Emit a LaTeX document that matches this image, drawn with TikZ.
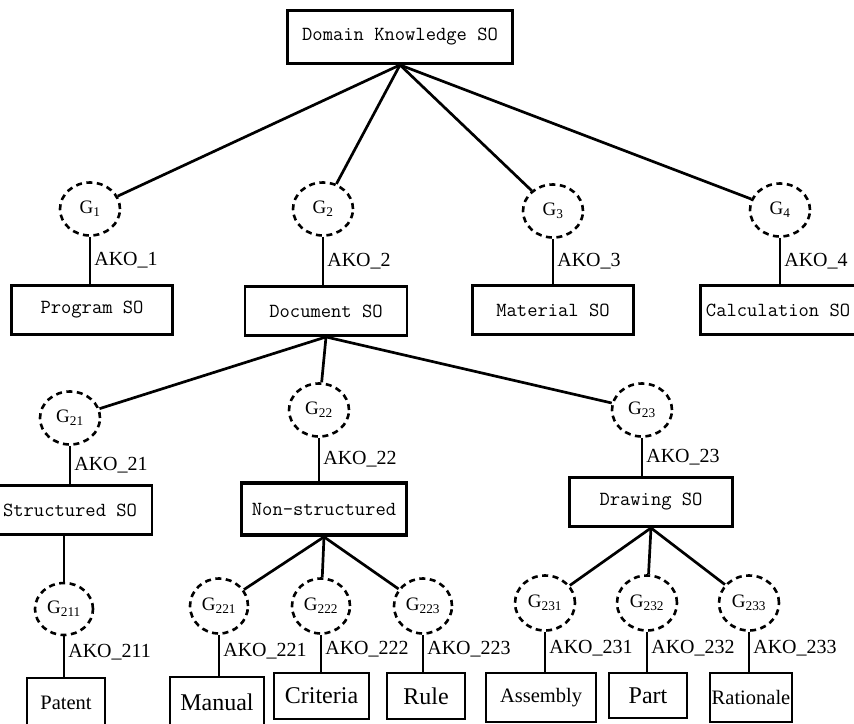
\documentclass[tikz,border=0pt]{standalone}
\usepackage{fontspec}
\setmainfont{Liberation Serif}
\usetikzlibrary{shapes.geometric}

\tikzset{
  sobox/.style={draw, line width=2.9pt, inner sep=0pt,
    font=\fontsize{20}{24}\selectfont\ttfamily},
  leafbig/.style={draw, line width=2.9pt, inner sep=0pt,
    font=\fontsize{24}{28}\selectfont},
  leafsmall/.style={draw, line width=2.9pt, inner sep=0pt,
    font=\fontsize{20.5}{24}\selectfont},
  gnode/.style={draw, ellipse, dash pattern=on 6pt off 4.5pt,
    line width=2.6pt, minimum width=60pt, minimum height=53pt,
    inner sep=0pt, font=\fontsize{19}{22}\selectfont},
  link/.style={line width=2.7pt},
  ako/.style={font=\fontsize{20}{24}\selectfont, anchor=west,
    inner sep=3pt}
}

\begin{document}
\begin{tikzpicture}[x=1pt, y=-1pt]
\useasboundingbox (0,0) rectangle (854,723);
\clip (0,0) rectangle (854,723);

% root
\node[sobox, minimum width=225pt, minimum height=53pt] (root) at (400,37) {Domain Knowledge SO};

% first level
\node[gnode] (g1) at (90,209) {G\textsubscript{1}};
\node[gnode] (g2) at (323,209) {G\textsubscript{2}};
\node[gnode] (g3) at (553,211) {G\textsubscript{3}};
\node[gnode] (g4) at (780,210) {G\textsubscript{4}};

\node[sobox, minimum width=161pt, minimum height=49pt] (prog) at (92,310) {Program SO};
\node[sobox, minimum width=162pt, minimum height=49pt] (doc) at (326,311) {Document SO};
\node[sobox, minimum width=161pt, minimum height=49pt] (mat) at (553,310) {Material SO};
\node[sobox, anchor=west, inner xsep=5.5pt, minimum height=49pt] (calc) at (699,310) {Calculation SO};

\foreach \g in {g1,g2,g3,g4} \draw[link] (root.south) -- (\g);

\draw[link] (g1.south) -- (g1.south |- prog.north) node[ako, midway] {AKO\_1};
\draw[link] (g2.south) -- (g2.south |- doc.north) node[ako, midway] {AKO\_2};
\draw[link] (g3.south) -- (g3.south |- mat.north) node[ako, midway] {AKO\_3};
\draw[link] (g4.south) -- (g4.south |- calc.north) node[ako, midway] {AKO\_4};

% second level
\node[gnode] (g21) at (70,418) {G\textsubscript{21}};
\node[gnode] (g22) at (319,410) {G\textsubscript{22}};
\node[gnode] (g23) at (642,410) {G\textsubscript{23}};

\node[sobox, minimum width=164pt, minimum height=49pt] (struct) at (70,510) {Structured SO};
\node[sobox, line width=3.8pt, minimum width=165pt, minimum height=52pt] (nonstruct) at (324,509) {Non-structured};
\node[sobox, minimum width=163pt, minimum height=49pt] (draw) at (651,502) {Drawing SO};

\foreach \g in {g21,g22,g23} \draw[link] (doc.south) -- (\g);

\draw[link] (g21.south) -- (g21.south |- struct.north) node[ako, midway] {AKO\_21};
\draw[link] (g22.south) -- (g22.south |- nonstruct.north) node[ako, midway] {AKO\_22};
\draw[link] (g23.south) -- (g23.south |- draw.north) node[ako, midway] {AKO\_23};

% third level
\node[gnode, minimum width=58pt, minimum height=52pt] (g211) at (64,609) {G\textsubscript{211}};
\node[gnode, minimum width=58pt, minimum height=55pt] (g221) at (219,606) {G\textsubscript{221}};
\node[gnode, minimum width=58pt, minimum height=55pt] (g222) at (321,606) {G\textsubscript{222}};
\node[gnode, minimum width=58pt, minimum height=55pt] (g223) at (423,606) {G\textsubscript{223}};
\node[gnode, minimum width=60pt, minimum height=55pt] (g231) at (545,603) {G\textsubscript{231}};
\node[gnode, minimum width=60pt, minimum height=55pt] (g232) at (647,603) {G\textsubscript{232}};
\node[gnode, minimum width=60pt, minimum height=55pt] (g233) at (749,603) {G\textsubscript{233}};

\node[leafsmall, minimum width=78pt, minimum height=50pt] (patent) at (66,703) {Patent};
\node[leafbig, minimum width=94pt, minimum height=50pt] (manual) at (217,702) {Manual};
\node[leafbig, minimum width=95pt, minimum height=46pt] (criteria) at (321.5,696) {Criteria};
\node[leafbig, minimum width=78pt, minimum height=46pt] (rule) at (426,696) {Rule};
\node[leafsmall, minimum width=110pt, minimum height=49pt] (assembly) at (541,697.5) {Assembly};
\node[leafbig, minimum width=78pt, minimum height=45pt] (part) at (648,695.5) {Part};
\node[leafsmall, minimum width=82pt, minimum height=49pt] (rationale) at (751,697.5) {Rationale};

\draw[link] (struct.south -| g211.north) -- (g211.north);
\foreach \g in {g221,g222,g223} \draw[link] (nonstruct.south) -- (\g);
\foreach \g in {g231,g232,g233} \draw[link] (draw.south) -- (\g);

\draw[link] (g211.south) -- (g211.south |- patent.north) node[ako, pos=0.4] {AKO\_211};
\draw[link] (g221.south) -- (g221.south |- manual.north) node[ako, pos=0.4] {AKO\_221};
\draw[link] (g222.south) -- (g222.south |- criteria.north) node[ako, pos=0.4] {AKO\_222};
\draw[link] (g223.south) -- (g223.south |- rule.north) node[ako, pos=0.4] {AKO\_223};
\draw[link] (g231.south) -- (g231.south |- assembly.north) node[ako, pos=0.4] {AKO\_231};
\draw[link] (g232.south) -- (g232.south |- part.north) node[ako, pos=0.4] {AKO\_232};
\draw[link] (g233.south) -- (g233.south |- rationale.north) node[ako, pos=0.4] {AKO\_233};
\end{tikzpicture}
\end{document}
